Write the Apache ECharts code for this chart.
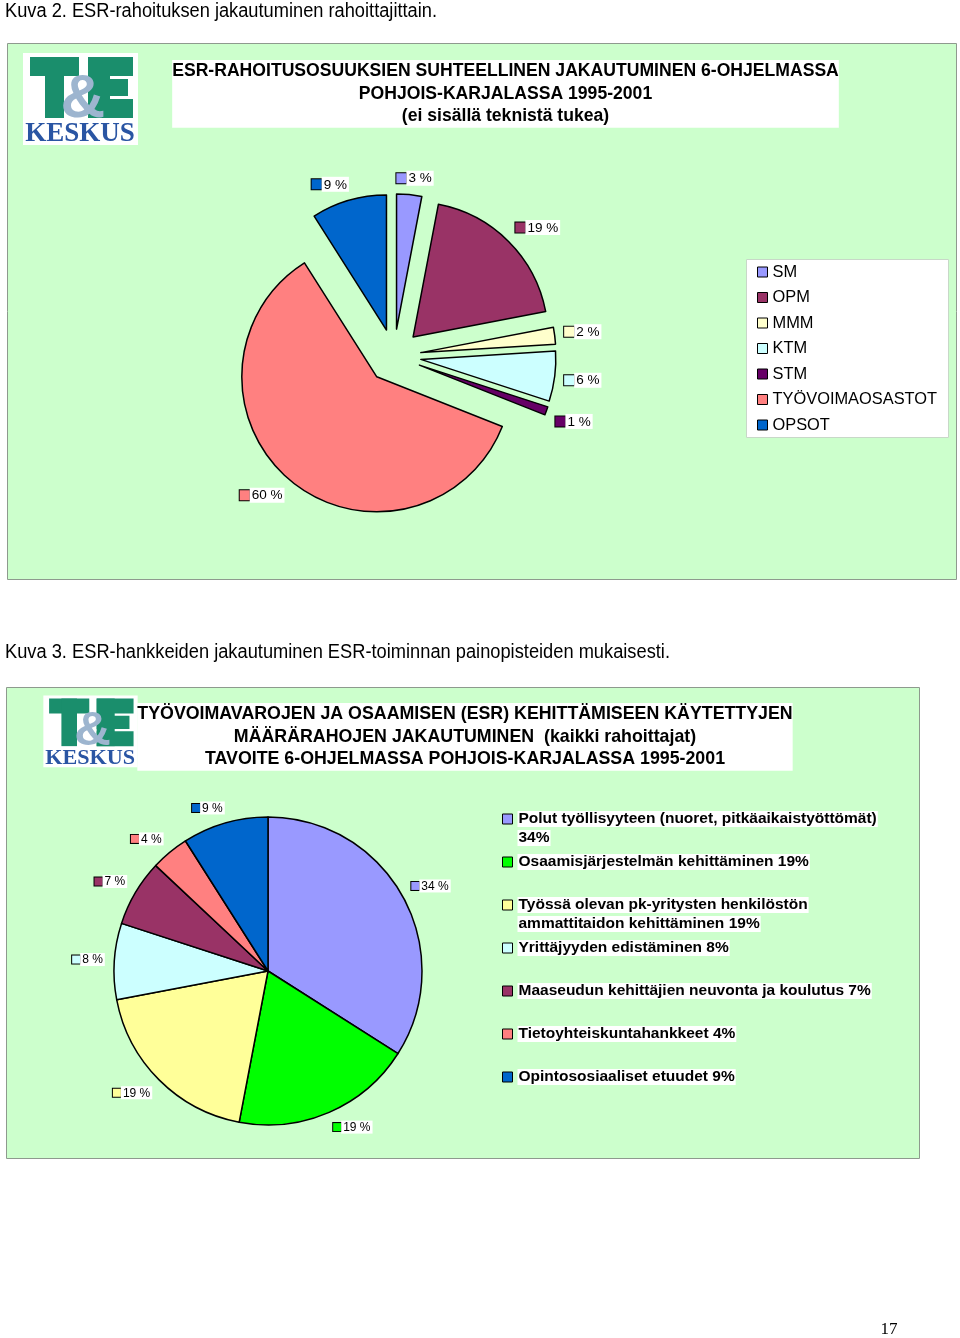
<!DOCTYPE html>
<html><head><meta charset="utf-8">
<script src="https://cdn.jsdelivr.net/npm/echarts@6/dist/echarts.min.js"></script>
<style>html,body{margin:0;padding:0;background:#fff}#c{width:960px;height:1338px}</style>
</head><body><div id="c"></div>
<script>
// ---- data ----
const caption1 = 'Kuva 2. ESR-rahoituksen jakautuminen rahoittajittain.';
const caption2 = 'Kuva 3. ESR-hankkeiden jakautuminen ESR-toiminnan painopisteiden mukaisesti.';
const title1Lines = ['ESR-RAHOITUSOSUUKSIEN SUHTEELLINEN JAKAUTUMINEN 6-OHJELMASSA', 'POHJOIS-KARJALASSA 1995-2001', '(ei sisällä teknistä tukea)'];
const title2Lines = ['TYÖVOIMAVAROJEN JA OSAAMISEN (ESR) KEHITTÄMISEEN KÄYTETTYJEN', 'MÄÄRÄRAHOJEN JAKAUTUMINEN  (kaikki rahoittajat)', 'TAVOITE 6-OHJELMASSA POHJOIS-KARJALASSA 1995-2001'];
const pageNumber = '17';

const pie1Categories = ['SM', 'OPM', 'MMM', 'KTM', 'STM', 'TYÖVOIMAOSASTOT', 'OPSOT'];
const pie1Values = [3, 19, 2, 6, 1, 60, 9];
const pie1Colors = ['#9999FF', '#993366', '#FFFFCC', '#CCFFFF', '#660066', '#FF8080', '#0066CC'];

const pie2Categories = ['Polut työllisyyteen (nuoret, pitkäaikaistyöttömät)', 'Osaamisjärjestelmän kehittäminen', 'Työssä olevan pk-yritysten henkilöstön ammattitaidon kehittäminen', 'Yrittäjyyden edistäminen', 'Maaseudun kehittäjien neuvonta ja koulutus', 'Tietoyhteiskuntahankkeet', 'Opintososiaaliset etuudet'];
const pie2Values = [34, 19, 19, 8, 7, 4, 9];
const pie2Colors = ['#9999FF', '#00FF00', '#FFFF99', '#CCFFFF', '#993366', '#FF8080', '#0066CC'];
const pie2LegendLines = [
  ['Polut työllisyyteen (nuoret, pitkäaikaistyöttömät)', '34%'],
  ['Osaamisjärjestelmän kehittäminen 19%'],
  ['Työssä olevan pk-yritysten henkilöstön', 'ammattitaidon kehittäminen 19%'],
  ['Yrittäjyyden edistäminen 8%'],
  ['Maaseudun kehittäjien neuvonta ja koulutus 7%'],
  ['Tietoyhteiskuntahankkeet 4%'],
  ['Opintososiaaliset etuudet 9%']
];

// ---- helpers ----
const F = '"Liberation Sans", Arial, sans-serif';
const GREEN = '#CCFFCC';
const PIE1_CENTER = [394, 356];
const PIE2_CENTER = [268, 971];
const LABEL_LEN = 1;

function fitScale(text, font, target) {
  const ctx = document.createElement('canvas').getContext('2d');
  ctx.font = font;
  return target / ctx.measureText(text).width;
}

function logo(x, y, sx, sy) {
  const g = '#1A8E6C';
  return {
    type: 'group', x: x, y: y, scaleX: sx, scaleY: sy, z: 2,
    children: [
      { type: 'rect', shape: { x: -2, y: -2, width: 115, height: 92 }, style: { fill: '#fff' } },
      { type: 'rect', shape: { x: 5, y: 2, width: 49, height: 19 }, style: { fill: g } },
      { type: 'rect', shape: { x: 20, y: 2, width: 19, height: 61 }, style: { fill: g } },
      { type: 'rect', shape: { x: 63, y: 2, width: 22, height: 61 }, style: { fill: g } },
      { type: 'rect', shape: { x: 63, y: 2, width: 45, height: 19 }, style: { fill: g } },
      { type: 'rect', shape: { x: 63, y: 24, width: 40, height: 17 }, style: { fill: g } },
      { type: 'rect', shape: { x: 63, y: 44, width: 45, height: 19 }, style: { fill: g } },
      { type: 'text', x: 58, y: 45, style: { text: '&', fontSize: 62, fontWeight: 'bold', fontFamily: F, fill: '#9DB5CF', align: 'center', verticalAlign: 'middle' } },
      { type: 'text', x: 55, y: 79, style: { text: 'KESKUS', fontSize: 27, fontWeight: 'bold', fontFamily: '"Liberation Serif", serif', fill: '#2A55A3', align: 'center', verticalAlign: 'middle' } }
    ]
  };
}

function labelRich(colors, size, fs) {
  const r = { t: { backgroundColor: '#fff', color: '#000', fontSize: fs, fontFamily: F, padding: [1, 2, 0, 2] } };
  colors.forEach((c, i) => {
    r['s' + i] = { width: size, height: size, backgroundColor: c, borderColor: '#000', borderWidth: 1 };
  });
  return r;
}

// Excel-like "outside end" placement: a point on the slice bisector a small gap outside the arc,
// label box slid so that its inner corner/edge sits on that point
function excelLabel(center, gap) {
  const f = t => Math.max(-1, Math.min(1, 3 * t));
  return function (p) {
    const r = p.labelRect;
    const ax = p.align === 'left' ? r.x : (p.align === 'right' ? r.x + r.width : r.x + r.width / 2);
    const ay = r.y + r.height / 2;
    let dx = ax - center[0], dy = ay - center[1];
    const L = Math.hypot(dx, dy) || 1;
    dx /= L; dy /= L;
    const s = gap - LABEL_LEN;
    const cx = ax + dx * s + r.width / 2 * f(dx);
    const cy = ay + dy * s + r.height / 2 * f(dy);
    return { dx: cx - ax, dy: cy - ay, align: 'center', verticalAlign: 'middle' };
  };
}

const capFont = '20px "Liberation Sans"';
const cap1Scale = fitScale(caption1, capFont, 432);
const cap2Scale = fitScale(caption2, capFont, 665);

const chart = echarts.init(document.getElementById('c'), null, { renderer: 'canvas' });

const option = {
  animation: false,
  backgroundColor: '#fff',
  graphic: [
    { type: 'text', x: 5, y: 11, scaleX: cap1Scale, z: 1, style: { text: caption1, fontSize: 20, fontFamily: F, fill: '#000', verticalAlign: 'middle' } },
    { type: 'rect', z: 0, shape: { x: 7.5, y: 43.5, width: 949, height: 536 }, style: { fill: GREEN, stroke: '#8E9A8E', lineWidth: 1 } },
    { type: 'rect', z: 1, shape: { x: 746.5, y: 259.5, width: 202, height: 178 }, style: { fill: '#fff', stroke: '#C8D8C8', lineWidth: 1 } },
    { type: 'text', x: 505.5, y: 60, z: 3, style: { text: title1Lines.join('\n'), fontSize: 17.6, fontWeight: 'bold', fontFamily: F, fill: '#000', align: 'center', verticalAlign: 'top', lineHeight: 22.6, backgroundColor: '#fff' } },
    logo(25, 55, 1, 1),

    { type: 'text', x: 5, y: 652, scaleX: cap2Scale, z: 1, style: { text: caption2, fontSize: 20, fontFamily: F, fill: '#000', verticalAlign: 'middle' } },
    { type: 'rect', z: 0, shape: { x: 6.5, y: 687.5, width: 913, height: 471 }, style: { fill: GREEN, stroke: '#8E9A8E', lineWidth: 1 } },
    { type: 'text', x: 465, y: 703, z: 3, style: { text: title2Lines.join('\n'), fontSize: 17.8, fontWeight: 'bold', fontFamily: F, fill: '#000', align: 'center', verticalAlign: 'top', lineHeight: 22.6, backgroundColor: '#fff' } },
    logo(45, 697, 0.82, 0.78),

    { type: 'text', x: 889, y: 1330, z: 1, style: { text: pageNumber, fontSize: 17, fontFamily: '"Liberation Serif", serif', fill: '#000', align: 'center', verticalAlign: 'middle' } }
  ],
  legend: [
    {
      data: pie1Categories, orient: 'vertical', left: 757, top: 263, padding: 0,
      itemWidth: 10, itemHeight: 10, itemGap: 7.5, icon: 'rect', selectedMode: false,
      itemStyle: { borderColor: '#000', borderWidth: 1 },
      textStyle: { fontSize: 16.4, fontFamily: F, color: '#000', lineHeight: 18 }
    },
    {
      data: pie2Categories, orient: 'vertical', left: 502, top: 792, padding: 0,
      itemWidth: 10, itemHeight: 10, itemGap: -11, icon: 'rect', selectedMode: false,
      itemStyle: { borderColor: '#000', borderWidth: 1 },
      formatter: function (name) {
        const lines = pie2LegendLines[pie2Categories.indexOf(name)];
        const out = ['{e| }'].concat(lines.map(s => '{a|' + s + '}'));
        while (out.length < 3) out.push('{e| }');
        return out.join('\n');
      },
      textStyle: {
        rich: {
          a: { fontSize: 15.5, fontWeight: 'bold', fontFamily: F, color: '#000', backgroundColor: '#fff', lineHeight: 19, padding: [0, 1, 0, 1] },
          e: { fontSize: 15.5, fontFamily: F, lineHeight: 19 }
        }
      }
    }
  ],
  series: [
    {
      type: 'pie', name: 'rahoittajat', center: PIE1_CENTER, radius: 135,
      startAngle: 90, clockwise: true, selectedMode: 'multiple', selectedOffset: 27,
      avoidLabelOverlap: false, z: 3,
      emphasis: { disabled: true },
      itemStyle: { borderColor: '#000', borderWidth: 1.5 },
      select: { itemStyle: { borderColor: '#000', borderWidth: 1.5 } },
      data: pie1Categories.map((n, i) => ({ name: n, value: pie1Values[i], selected: true, itemStyle: { color: pie1Colors[i] } })),
      label: {
        show: true, position: 'outside', distanceToLabelLine: 0,
        formatter: p => '{s' + p.dataIndex + '|}{t|' + p.value + ' %}',
        rich: labelRich(pie1Colors, 10, 13.5)
      },
      labelLine: { show: false, length: LABEL_LEN, length2: 0 },
      labelLayout: excelLabel(PIE1_CENTER, 9)
    },
    {
      type: 'pie', name: 'painopisteet', center: PIE2_CENTER, radius: 154,
      startAngle: 90, clockwise: true, selectedMode: false,
      avoidLabelOverlap: false, z: 3,
      emphasis: { disabled: true },
      itemStyle: { borderColor: '#000', borderWidth: 1.5 },
      data: pie2Categories.map((n, i) => ({ name: n, value: pie2Values[i], itemStyle: { color: pie2Colors[i] } })),
      label: {
        show: true, position: 'outside', distanceToLabelLine: 0,
        formatter: p => '{s' + p.dataIndex + '|}{t|' + p.value + ' %}',
        rich: labelRich(pie2Colors, 8, 12)
      },
      labelLine: { show: false, length: LABEL_LEN, length2: 0 },
      labelLayout: excelLabel(PIE2_CENTER, 9)
    }
  ]
};
chart.setOption(option);
</script>
</body></html>
